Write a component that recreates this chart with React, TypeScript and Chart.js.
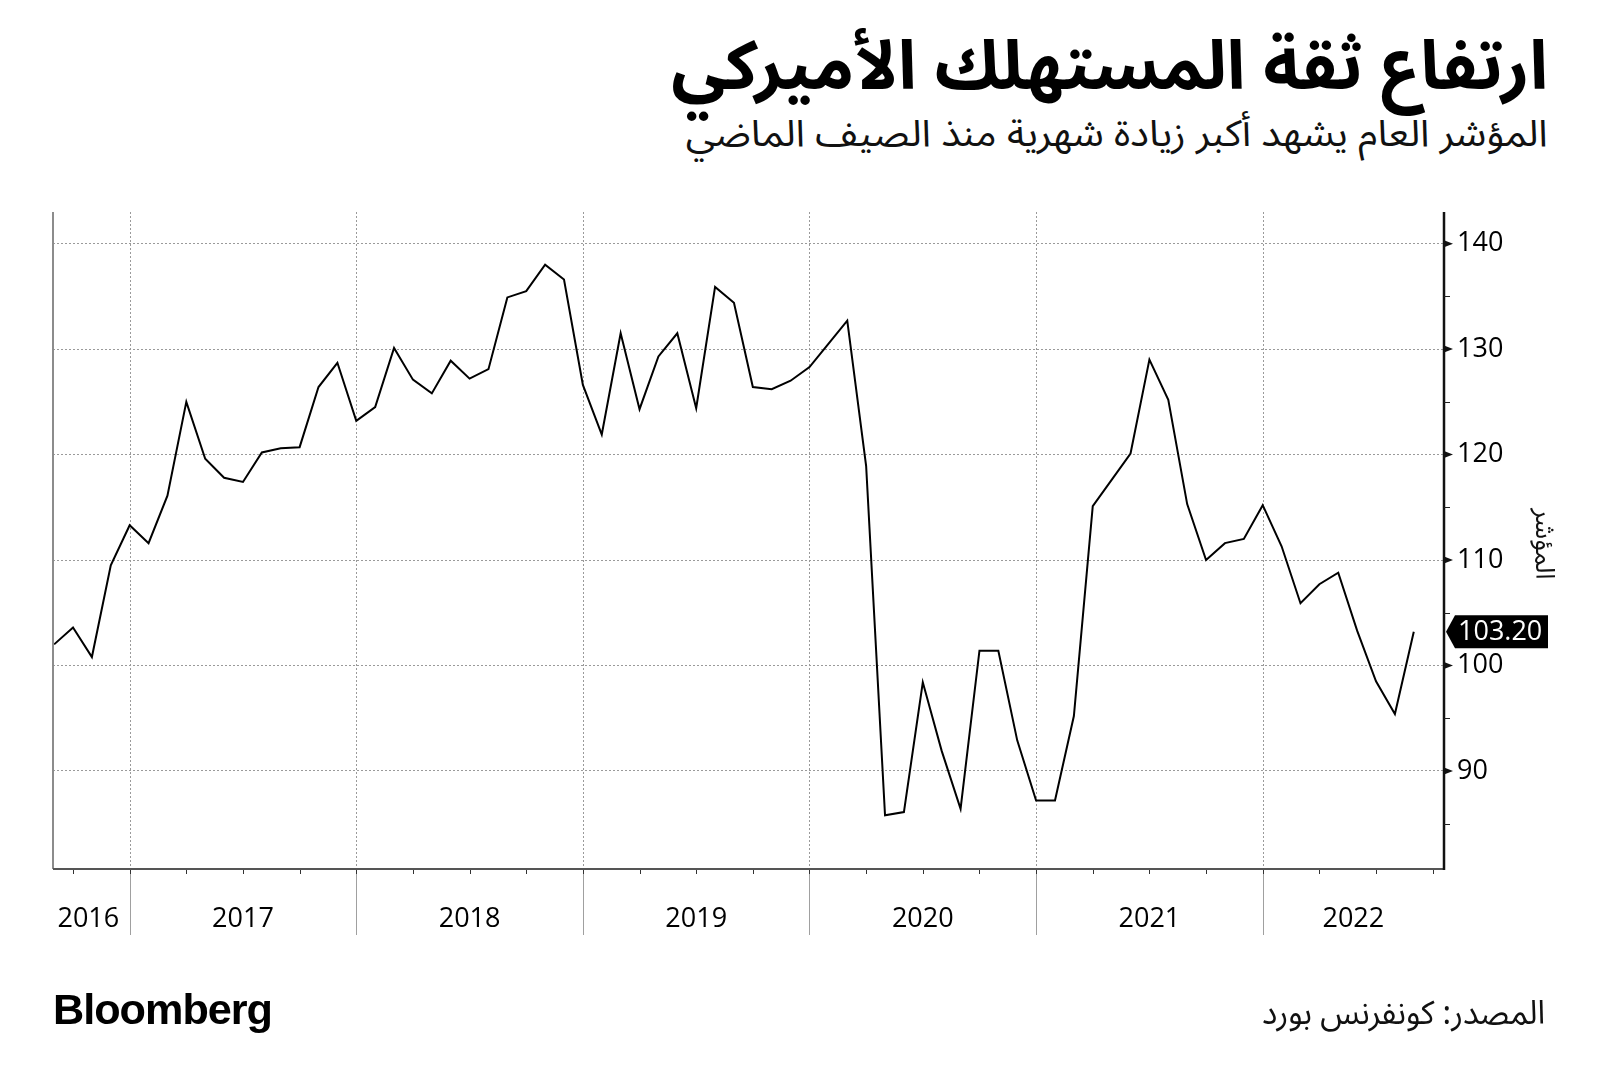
import React, { useEffect, useLayoutEffect, useRef } from "react";
import { Chart, registerables } from "chart.js";

Chart.register(...registerables);

// ---- data (monthly, Sep 2016 -> Sep 2022) ----
const startLabel = "2016-09";
const values: number[] = [
  102.0, 103.6, 100.8, 109.5,
  113.3, 111.6, 116.1, 125.0, 119.6, 117.8, 117.4, 120.2, 120.6, 120.7, 126.4, 128.7,
  123.2, 124.5, 130.1, 127.1, 125.8, 128.9, 127.2, 128.1, 134.9, 135.5, 138.0, 136.6,
  126.6, 121.9, 131.5, 124.3, 129.3, 131.5, 124.4, 135.9, 134.4, 126.4, 126.2, 127.0,
  128.3, 130.5, 132.7, 118.9, 85.8, 86.1, 98.4, 91.9, 86.4, 101.4, 101.4, 92.9,
  87.2, 87.2, 95.2, 115.1, 117.6, 120.1, 129.0, 125.2, 115.3, 110.0, 111.6, 112.0,
  115.2, 111.3, 105.9, 107.7, 108.8, 103.3, 98.5, 95.4, 103.2,
];
const yearLabels: string[] = ["2016", "2017", "2018", "2019", "2020", "2021", "2022"];
// month index (0 = Sep 2016) at which each year begins
const yearStartIdx: number[] = [-4, 4, 16, 28, 40, 52, 64];
// quarter starts (Oct 2016, Jan 2017, ...)
const quarterIdx: number[] = [1, 4, 7, 10, 13, 16, 19, 22, 25, 28, 31, 34, 37, 40, 43, 46, 49, 52, 55, 58, 61, 64, 67, 70, 73];
const yMajorTicks: number[] = [90, 100, 110, 120, 130, 140];
const lastValueLabel = "103.20";

const titleText = "ارتفاع ثقة المستهلك الأميركي";
const subtitleText = "المؤشر العام يشهد أكبر زيادة شهرية منذ الصيف الماضي";
const axisTitle = "المؤشر";
const sourceText = "المصدر: كونفرنس بورد";

const W = 1600;
const H = 1090;
const AREA = { left: 53, right: 1444, top: 212, bottom: 869 };
const NUM_FONT = '"Open Sans", "Noto Sans", sans-serif';
const AR_FONT = '"Noto Sans Arabic", "Noto Kufi Arabic", "DejaVu Sans", sans-serif';

const decor = {
  id: "decor",
  beforeDatasetsDraw(chart: any) {
    const { ctx, chartArea, scales } = chart;
    const x = scales.x;
    ctx.save();
    ctx.strokeStyle = "#9a9a9a";
    ctx.lineWidth = 1;
    ctx.setLineDash([2, 2]);
    yearStartIdx.forEach((idx) => {
      if (idx <= x.min) return;
      const px = Math.round(x.getPixelForValue(idx)) + 0.5;
      ctx.beginPath();
      ctx.moveTo(px, chartArea.top);
      ctx.lineTo(px, chartArea.bottom);
      ctx.stroke();
    });
    ctx.restore();
  },
  afterDraw(chart: any) {
    const { ctx, chartArea, scales } = chart;
    const x = scales.x;
    const y = scales.y;
    ctx.save();
    // year separators below axis
    ctx.strokeStyle = "#a0a0a0";
    ctx.lineWidth = 1;
    yearStartIdx.forEach((idx) => {
      if (idx <= x.min) return;
      const px = Math.round(x.getPixelForValue(idx)) + 0.5;
      ctx.beginPath();
      ctx.moveTo(px, chartArea.bottom);
      ctx.lineTo(px, chartArea.bottom + 66);
      ctx.stroke();
    });
    // quarter ticks
    ctx.strokeStyle = "#333";
    quarterIdx.forEach((idx) => {
      const px = Math.round(x.getPixelForValue(idx)) + 0.5;
      ctx.beginPath();
      ctx.moveTo(px, chartArea.bottom);
      ctx.lineTo(px, chartArea.bottom + 5);
      ctx.stroke();
    });
    // left axis
    ctx.strokeStyle = "#8c8c8c";
    ctx.lineWidth = 2;
    ctx.beginPath();
    ctx.moveTo(chartArea.left, chartArea.top);
    ctx.lineTo(chartArea.left, chartArea.bottom);
    ctx.stroke();
    // bottom axis
    ctx.strokeStyle = "#555";
    ctx.beginPath();
    ctx.moveTo(chartArea.left, chartArea.bottom);
    ctx.lineTo(chartArea.right, chartArea.bottom);
    ctx.stroke();
    // right axis
    ctx.strokeStyle = "#111";
    ctx.lineWidth = 2.5;
    ctx.beginPath();
    ctx.moveTo(chartArea.right, chartArea.top);
    ctx.lineTo(chartArea.right, chartArea.bottom + 1);
    ctx.stroke();
    // y ticks: minor lines and major triangles
    ctx.fillStyle = "#111";
    ctx.strokeStyle = "#222";
    ctx.lineWidth = 1;
    y.ticks.forEach((t: any) => {
      const py = y.getPixelForValue(t.value);
      if (yMajorTicks.includes(t.value)) {
        ctx.beginPath();
        ctx.moveTo(chartArea.right, py - 3.5);
        ctx.lineTo(chartArea.right + 9, py);
        ctx.lineTo(chartArea.right, py + 3.5);
        ctx.closePath();
        ctx.fill();
      } else {
        ctx.beginPath();
        ctx.moveTo(chartArea.right, Math.round(py) + 0.5);
        ctx.lineTo(chartArea.right + 6, Math.round(py) + 0.5);
        ctx.stroke();
      }
    });
    // year labels
    ctx.fillStyle = "#000";
    ctx.font = `27px ${NUM_FONT}`;
    ctx.textAlign = "center";
    ctx.textBaseline = "middle";
    yearLabels.forEach((lab, i) => {
      const a = Math.max(x.getPixelForValue(yearStartIdx[i]), chartArea.left);
      const bIdx = i + 1 < yearStartIdx.length ? yearStartIdx[i + 1] : x.max;
      const b = Math.min(x.getPixelForValue(bIdx), chartArea.right);
      const cx = i === 0 ? (a + b) / 2 - 3 : (a + b) / 2;
      ctx.fillText(lab, cx, chartArea.bottom + 50);
    });
    // last value box
    const lastV = values[values.length - 1];
    const vy = y.getPixelForValue(lastV);
    const bx0 = chartArea.right + 2;
    const bx1 = chartArea.right + 11;
    const bx2 = chartArea.right + 104;
    const hh = 16.5;
    ctx.fillStyle = "#000";
    ctx.beginPath();
    ctx.moveTo(bx0, vy);
    ctx.lineTo(bx1, vy - hh);
    ctx.lineTo(bx2, vy - hh);
    ctx.lineTo(bx2, vy + hh);
    ctx.lineTo(bx1, vy + hh);
    ctx.closePath();
    ctx.fill();
    ctx.fillStyle = "#fff";
    ctx.textAlign = "left";
    ctx.font = `27px ${NUM_FONT}`;
    ctx.fillText(lastValueLabel, chartArea.right + 14, vy + 1);
    // axis title rotated clockwise
    ctx.save();
    ctx.translate(1540, 544);
    ctx.rotate(Math.PI / 2);
    ctx.fillStyle = "#111";
    ctx.font = `26px ${AR_FONT}`;
    ctx.textAlign = "center";
    ctx.textBaseline = "middle";
    ctx.fillText(axisTitle, 0, 0);
    ctx.restore();
    ctx.restore();
  },
};

function FitText(props: {
  text: string;
  width: number;
  top: number;
  left?: number;
  right?: number;
  dir?: "rtl" | "ltr";
  style: React.CSSProperties;
}) {
  const ref = useRef<HTMLDivElement>(null);
  useLayoutEffect(() => {
    const el = ref.current;
    if (!el) return;
    el.style.transform = "none";
    const w = el.getBoundingClientRect().width;
    if (w > 0) el.style.transform = `scaleX(${props.width / w})`;
  }, [props.text, props.width]);
  const pos: React.CSSProperties =
    props.right !== undefined
      ? { right: props.right, transformOrigin: "right top" }
      : { left: props.left, transformOrigin: "left top" };
  return (
    <div
      ref={ref}
      dir={props.dir || "rtl"}
      style={{
        position: "absolute",
        top: props.top,
        whiteSpace: "nowrap",
        lineHeight: 1,
        ...pos,
        ...props.style,
      }}
    >
      {props.text}
    </div>
  );
}

export default function App() {
  const canvasRef = useRef<HTMLCanvasElement>(null);

  useEffect(() => {
    const canvas = canvasRef.current;
    if (!canvas) return;
    const chart = new Chart(canvas, {
      type: "line",
      data: {
        labels: values.map((_, i) => i),
        datasets: [
          {
            label: startLabel,
            data: values.map((v, i) => ({ x: i, y: v })),
            borderColor: "#000",
            borderWidth: 2,
            pointRadius: 0,
            tension: 0,
            fill: false,
          },
        ],
      },
      options: {
        animation: false,
        responsive: false,
        devicePixelRatio: 1,
        layout: { padding: { left: AREA.left, top: AREA.top, right: 0, bottom: 0 } },
        plugins: { legend: { display: false }, tooltip: { enabled: false } },
        scales: {
          x: {
            type: "linear",
            min: -0.06,
            max: 73.6,
            ticks: { display: false },
            grid: { display: false },
            border: { display: false },
            afterFit: (s: any) => {
              s.height = H - AREA.bottom;
            },
          },
          y: {
            type: "linear",
            position: "right",
            min: 80.7,
            max: 143,
            ticks: {
              stepSize: 5,
              includeBounds: false,
              callback: (v: any) => (yMajorTicks.includes(Number(v)) ? String(v) : ""),
              font: { family: NUM_FONT, size: 27 },
              color: "#000",
              padding: 13,
            },
            grid: {
              drawTicks: false,
              lineWidth: 1,
              color: (c: any) =>
                c.tick && yMajorTicks.includes(c.tick.value) ? "#9a9a9a" : "rgba(0,0,0,0)",
            },
            border: { display: false, dash: [2, 2] },
            afterFit: (s: any) => {
              s.width = W - AREA.right;
            },
          },
        },
      },
      plugins: [decor],
    } as any);
    return () => chart.destroy();
  }, []);

  return (
    <div style={{ position: "absolute", left: 0, top: 0, width: W, height: H, background: "#fff", overflow: "hidden" }}>
      <FitText
        text={titleText}
        width={877}
        top={34}
        right={52}
        style={{ fontFamily: AR_FONT, fontWeight: 700, fontSize: 68, color: "#000" }}
      />
      <FitText
        text={subtitleText}
        width={862}
        top={116}
        right={52}
        style={{ fontFamily: AR_FONT, fontWeight: 400, fontSize: 37, color: "#111" }}
      />
      <canvas ref={canvasRef} width={W} height={H} style={{ position: "absolute", left: 0, top: 0, width: W, height: H }} />
      <FitText
        text="Bloomberg"
        width={219}
        top={988}
        left={53}
        dir="ltr"
        style={{ fontFamily: '"Liberation Sans", Arial, sans-serif', fontWeight: 700, fontSize: 43, color: "#000", letterSpacing: -1 }}
      />
      <FitText
        text={sourceText}
        width={283}
        top={997}
        right={55}
        style={{ fontFamily: AR_FONT, fontWeight: 400, fontSize: 33, color: "#111" }}
      />
    </div>
  );
}
